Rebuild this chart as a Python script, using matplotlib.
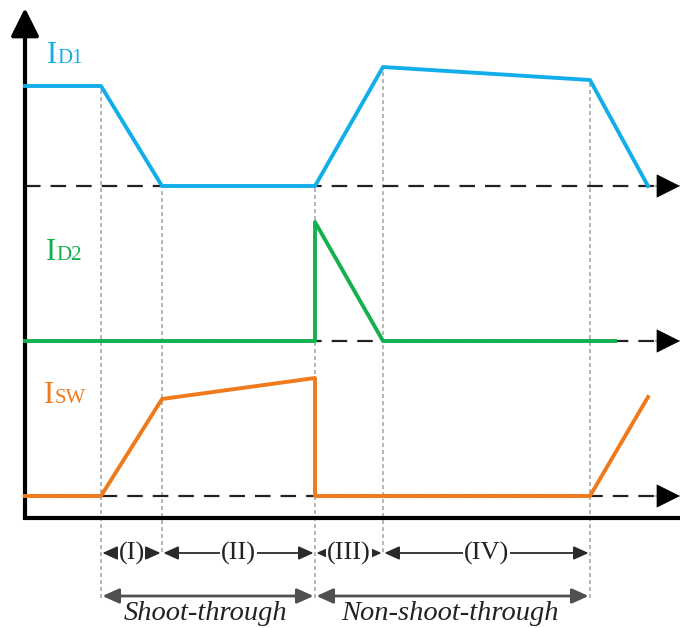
import matplotlib.pyplot as plt

# ── Waveform data (time in px-like units, amplitude above each baseline) ─────
ID1_T = [25, 101, 162, 315, 383, 590, 648]
ID1_V = [100, 100, 0, 0, 119, 106, 0]

ID2_T = [25, 315, 315, 383, 615]
ID2_V = [0, 0, 119, 0, 0]

ISW_T = [25, 101, 162, 315, 315, 590, 648]
ISW_V = [0, 0, 97, 118, 0, 0, 99]

# interval boundaries and their names
BOUNDS = [101, 162, 315, 383, 590]
INTERVALS = ["(I)", "(II)", "(III)", "(IV)"]
PHASE_BOUNDS = [101, 315, 590]
PHASES = ["Shoot-through", "Non-shoot-through"]

# ── Layout / style ───────────────────────────────────────────────────────────
W, H = 680, 628
X0 = 25            # vertical axis position
AXIS_Y = 110       # bottom axis
BASE = {"id1": 442, "id2": 287, "isw": 132}
BLUE, GREEN, ORANGE = "#12AEEA", "#12B04E", "#EE7A1C"
SERIF = ["Liberation Serif", "DejaVu Serif"]

fig = plt.figure(figsize=(W / 100, H / 100), dpi=100)
ax = fig.add_axes([0, 0, 1, 1])
ax.set_xlim(0, W)
ax.set_ylim(0, H)
ax.axis("off")

# ── Axes ─────────────────────────────────────────────────────────────────────
ax.plot([X0, W], [AXIS_Y, AXIS_Y], color="black", lw=3, solid_capstyle="projecting")
ax.annotate("", xy=(X0, H - 8), xytext=(X0, AXIS_Y),
            arrowprops=dict(arrowstyle="-|>,head_length=1.0,head_width=0.5",
                            mutation_scale=17, lw=3, color="black",
                            shrinkA=0, shrinkB=0))

# dashed zero lines with arrow tips
for base in BASE.values():
    ax.plot([X0, 660], [base, base], color="#222222", lw=1.6, dashes=(7, 4.5), zorder=1)
    ax.annotate("", xy=(W, base), xytext=(655, base),
                arrowprops=dict(arrowstyle="-|>,head_length=1.0,head_width=0.5",
                                mutation_scale=16, lw=0.5, color="black",
                                shrinkA=0, shrinkB=0))

# ── Dotted timing guides ─────────────────────────────────────────────────────
top = dict(zip(ID1_T, [BASE["id1"] + v for v in ID1_V]))
guide_ends = {101: 30, 162: 76, 315: 30, 383: 76, 590: 30}
for x in BOUNDS:
    ax.plot([x, x], [guide_ends[x], top[x]], color="#B4B4B4", lw=1.4,
            dashes=(2, 1.6), zorder=0.5)

# ── Waveforms ────────────────────────────────────────────────────────────────
ax.plot(ID1_T, [BASE["id1"] + v for v in ID1_V], color=BLUE, lw=2.8, zorder=3)
ax.plot(ID2_T, [BASE["id2"] + v for v in ID2_V], color=GREEN, lw=2.8, zorder=3)
ax.plot(ISW_T, [BASE["isw"] + v for v in ISW_V], color=ORANGE, lw=2.8, zorder=3)

# signal names: big "I" + small-caps subscript
for x, y, sub, c in [(47, 565, "D1", BLUE), (46, 368, "D2", GREEN), (44, 225, "SW", ORANGE)]:
    ax.text(x, y, "I", color=c, fontsize=22, family=SERIF, va="baseline")
    ax.text(x + 10.5, y, sub, color=c, fontsize=15, family=SERIF, va="baseline")

# ── Interval annotations ─────────────────────────────────────────────────────
def span(a, b, y, lw, ms, color):
    ax.annotate("", xy=(b, y), xytext=(a, y),
                arrowprops=dict(arrowstyle="<|-|>,head_length=1.0,head_width=0.45",
                                mutation_scale=ms, lw=lw, color=color,
                                shrinkA=1, shrinkB=1))

ROW1, ROW2 = 75, 32
for (a, b), name in zip(zip(BOUNDS[:-1], BOUNDS[1:]), INTERVALS):
    span(a, b, ROW1, 1.3, 9, "#2A2A2A")
    ax.text((a + b) / 2, ROW1, name, fontsize=19, family=SERIF, color="#222222",
            ha="center", va="center",
            bbox=dict(fc="white", ec="none", pad=0.5))

for (a, b), name in zip(zip(PHASE_BOUNDS[:-1], PHASE_BOUNDS[1:]), PHASES):
    span(a, b, ROW2, 2.0, 10, "#505050")
    ax.text((a + b) / 2 - 3, 8, name, fontsize=20.5, family=SERIF, style="italic",
            color="#222222", ha="center", va="baseline")

plt.savefig("out.png", dpi=100)
